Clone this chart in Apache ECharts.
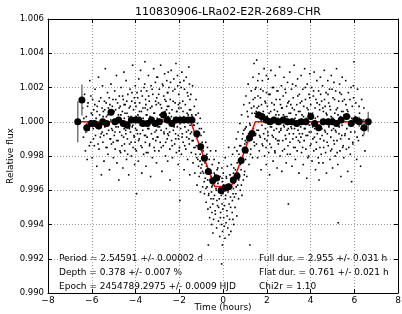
<!DOCTYPE html>
<html>
<head>
<meta charset="utf-8">
<script src="https://cdn.jsdelivr.net/npm/echarts@6/dist/echarts.min.js"></script>
<style>
  html, body { margin: 0; padding: 0; background: #fff; }
  #lightcurve { width: 402px; height: 314px; }
</style>
</head>
<body>
<div id="lightcurve"></div>
<script>
// raw photometry, folded on the period (time in hours, relative flux)
var rawPoints = [
  [-6.42,1.0008],[-6.38,0.9991],[-6.33,1.0016],[-6.29,0.9983],[-6.25,1.0003],[-6.21,0.9978],[-6.17,1.0011],[-6.13,0.9995],[-6.09,1.0024],[-6.05,0.9988],[-6.02,1.0005],
  [-5.98,0.9979],[-5.96,1.0013],[-5.93,0.9996],[-5.91,1.0007],[-5.88,0.9986],[-5.85,1.0019],[-5.83,0.9992],[-5.80,1.0002],[-5.77,0.9974],[-5.75,1.0009],[-5.72,0.9998],[-5.69,1.0026],[-5.67,0.9984],[-5.64,1.0004],[-5.61,0.9991],[-5.59,1.0014],[-5.56,0.9969],[-5.54,1.0001],[-5.52,0.9994],[-5.51,1.0021],
  [-5.49,0.9988],[-5.47,1.0006],[-5.44,0.9977],[-5.42,1.0012],[-5.40,0.9997],[-5.38,1.0031],[-5.35,0.9985],[-5.33,1.0003],[-5.31,0.9993],[-5.28,1.0017],[-5.26,0.9981],[-5.24,1.0008],[-5.21,0.9999],[-5.19,0.9972],[-5.17,1.0010],[-5.14,0.9990],[-5.12,1.0022],[-5.10,0.9987],[-5.07,1.0005],[-5.05,0.9995],[-5.03,1.0013],[-5.01,0.9979],
  [-4.99,1.0001],[-4.97,0.9992],[-4.95,1.0018],[-4.93,0.9984],[-4.91,1.0007],[-4.89,0.9997],[-4.87,1.0027],[-4.85,0.9976],[-4.82,1.0011],[-4.80,0.9989],[-4.78,1.0004],[-4.76,0.9966],[-4.74,1.0015],[-4.72,0.9994],[-4.70,1.0009],[-4.68,0.9982],[-4.66,1.0020],[-4.64,0.9999],[-4.62,0.9986],[-4.60,1.0006],[-4.58,0.9973],[-4.56,1.0013],[-4.54,0.9991],[-4.53,1.0029],[-4.52,0.9996],[-4.51,1.0002],
  [-4.49,0.9983],[-4.47,1.0010],[-4.45,0.9995],[-4.43,1.0024],[-4.41,0.9978],[-4.39,1.0005],[-4.37,0.9990],[-4.35,1.0016],[-4.33,0.9999],[-4.31,0.9969],[-4.29,1.0008],[-4.27,0.9987],[-4.25,1.0019],[-4.23,0.9994],[-4.21,1.0003],[-4.19,0.9980],[-4.17,1.0012],[-4.15,0.9997],[-4.13,1.0033],[-4.11,0.9985],[-4.09,1.0007],[-4.07,0.9992],[-4.05,1.0014],[-4.04,0.9975],[-4.03,1.0001],[-4.02,0.9988],[-4.01,1.0021],[-4.00,0.9996],
  [-3.98,1.0009],[-3.96,0.9983],[-3.95,0.9958],[-3.93,1.0017],[-3.91,0.9993],[-3.89,1.0004],[-3.87,0.9977],[-3.85,1.0025],[-3.83,0.9990],[-3.81,1.0011],[-3.79,0.9998],[-3.77,1.0030],[-3.75,0.9986],[-3.73,1.0006],[-3.71,0.9970],[-3.69,1.0015],[-3.67,0.9995],[-3.65,1.0002],[-3.63,0.9981],[-3.61,1.0020],[-3.59,0.9992],[-3.57,1.0035],[-3.56,1.0008],[-3.55,0.9988],[-3.54,1.0013],[-3.53,0.9999],[-3.52,0.9974],[-3.51,1.0004],
  [-3.49,1.0018],[-3.47,0.9991],[-3.45,1.0007],[-3.43,0.9982],[-3.41,1.0027],[-3.39,0.9996],[-3.37,1.0012],[-3.35,0.9987],[-3.33,1.0003],[-3.31,0.9968],[-3.29,1.0021],[-3.27,0.9993],[-3.25,1.0009],[-3.23,0.9979],[-3.21,1.0016],[-3.19,0.9998],[-3.17,1.0031],[-3.15,0.9985],[-3.13,1.0005],[-3.11,0.9994],[-3.09,1.0023],[-3.07,0.9989],[-3.05,1.0010],[-3.04,0.9976],[-3.03,1.0014],[-3.02,1.0001],[-3.01,0.9991],
  [-2.99,1.0026],[-2.97,0.9997],[-2.95,1.0011],[-2.93,0.9983],[-2.91,1.0019],[-2.89,1.0004],[-2.87,0.9988],[-2.85,1.0033],[-2.83,0.9995],[-2.81,1.0008],[-2.79,0.9971],[-2.77,1.0022],[-2.75,1.0001],[-2.73,0.9986],[-2.71,1.0015],[-2.69,0.9993],[-2.67,1.0028],[-2.65,1.0006],[-2.63,0.9980],[-2.61,1.0012],[-2.59,0.9996],[-2.57,1.0024],[-2.55,0.9990],[-2.54,1.0009],[-2.53,0.9977],[-2.52,1.0017],[-2.51,1.0003],
  [-2.49,0.9992],[-2.47,1.0020],[-2.45,1.0005],[-2.43,0.9984],[-2.42,0.9966],[-2.41,1.0013],[-2.39,0.9998],[-2.37,1.0030],[-2.35,0.9989],[-2.33,1.0007],[-2.31,0.9979],[-2.29,1.0018],[-2.27,0.9995],[-2.25,1.0025],[-2.23,1.0002],[-2.21,0.9987],[-2.19,1.0011],[-2.17,0.9993],[-2.15,1.0034],[-2.13,0.9982],[-2.11,1.0006],[-2.09,0.9997],[-2.07,1.0021],[-2.05,0.9975],[-2.04,1.0010],[-2.03,0.9990],[-2.02,1.0016],[-2.01,1.0000],
  [-1.99,0.9985],[-1.97,0.9954],[-1.96,1.0023],[-1.94,0.9996],[-1.92,1.0008],[-1.90,0.9981],[-1.88,1.0029],[-1.86,0.9993],[-1.84,1.0012],[-1.82,0.9988],[-1.80,1.0003],[-1.78,0.9972],[-1.76,1.0019],[-1.74,0.9997],[-1.72,1.0010],[-1.70,0.9984],[-1.68,1.0026],[-1.66,0.9991],[-1.64,1.0005],[-1.62,0.9978],[-1.60,1.0015],[-1.58,0.9995],[-1.56,1.0032],[-1.54,0.9987],[-1.53,1.0007],[-1.52,0.9969],[-1.51,1.0013],
  [-1.49,0.9993],[-1.47,1.0016],[-1.45,0.9982],[-1.43,1.0004],[-1.41,0.9989],[-1.39,1.0021],[-1.37,0.9976],[-1.35,0.9998],[-1.33,0.9985],[-1.31,1.0009],[-1.29,0.9970],[-1.27,0.9994],[-1.25,0.9981],[-1.23,1.0013],[-1.21,0.9986],[-1.19,0.9963],[-1.17,0.9999],[-1.15,0.9978],[-1.13,1.0005],[-1.11,0.9984],[-1.09,0.9968],[-1.07,0.9993],[-1.05,0.9977],[-1.04,1.0002],[-1.03,0.9959],[-1.02,0.9987],[-1.01,0.9973],
  [-0.99,0.9996],[-0.97,0.9975],[-0.95,0.9988],[-0.93,0.9962],[-0.91,0.9983],[-0.89,0.9970],[-0.87,0.9994],[-0.85,0.9958],[-0.83,0.9979],[-0.81,0.9967],[-0.79,0.9988],[-0.77,0.9953],[-0.75,0.9974],[-0.73,0.9962],[-0.71,0.9985],[-0.69,0.9949],[-0.67,0.9928],[-0.66,0.9971],[-0.65,0.9958],[-0.63,0.9978],[-0.61,0.9944],[-0.59,0.9966],[-0.57,0.9983],[-0.55,0.9955],[-0.53,0.9970],[-0.52,0.9940],[-0.51,0.9962],
  [-0.49,0.9975],[-0.47,0.9952],[-0.46,0.9935],[-0.45,0.9966],[-0.43,0.9943],[-0.41,0.9978],[-0.39,0.9957],[-0.37,0.9969],[-0.35,0.9946],[-0.33,0.9983],[-0.31,0.9960],[-0.29,0.9938],[-0.27,0.9972],[-0.25,0.9951],[-0.23,0.9964],[-0.21,0.9942],[-0.19,0.9976],[-0.17,0.9955],[-0.15,0.9933],[-0.13,0.9968],[-0.11,0.9947],[-0.09,0.9961],[-0.07,0.9940],[-0.06,0.9917],[-0.05,0.9973],[-0.04,0.9952],[-0.03,0.9965],[-0.02,0.9936],[-0.01,0.9958],
  [0.01,0.9970],[0.03,0.9944],[0.05,0.9962],[0.07,0.9951],[0.09,0.9932],[0.10,0.9979],[0.12,0.9957],[0.14,0.9941],[0.16,0.9967],[0.18,0.9948],[0.20,0.9974],[0.22,0.9938],[0.24,0.9960],[0.26,0.9985],[0.28,0.9952],[0.30,0.9943],[0.32,0.9969],[0.34,0.9956],[0.36,0.9936],[0.38,0.9975],[0.40,0.9962],[0.42,0.9947],[0.44,0.9981],[0.46,0.9958],[0.48,0.9970],[0.49,0.9940],
  [0.51,0.9964],[0.53,0.9985],[0.55,0.9950],[0.57,0.9972],[0.59,0.9958],[0.61,0.9990],[0.63,0.9945],[0.65,0.9976],[0.67,0.9963],[0.69,0.9994],[0.71,0.9955],[0.73,0.9981],[0.75,0.9968],[0.77,0.9999],[0.79,0.9960],[0.81,0.9986],[0.83,0.9972],[0.85,1.0004],[0.87,0.9957],[0.89,0.9979],[0.91,0.9993],[0.93,0.9966],[0.95,1.0010],[0.97,0.9984],[0.99,0.9971],
  [1.01,0.9996],[1.03,0.9978],[1.05,1.0015],[1.07,0.9988],[1.09,0.9968],[1.11,1.0006],[1.13,0.9983],[1.15,1.0022],[1.17,0.9993],[1.19,0.9975],[1.21,1.0011],[1.23,0.9928],[1.25,0.9998],[1.27,0.9984],[1.29,1.0018],[1.31,0.9990],[1.33,1.0005],[1.35,0.9979],[1.37,1.0026],[1.39,0.9996],[1.41,1.0009],[1.42,1.0034],[1.44,0.9986],[1.46,1.0014],[1.48,0.9992],[1.49,1.0003],
  [1.51,1.0020],[1.53,0.9987],[1.54,1.0036],[1.56,1.0008],[1.58,0.9979],[1.60,1.0015],[1.62,0.9995],[1.64,1.0028],[1.66,0.9983],[1.68,1.0004],[1.70,0.9991],[1.72,1.0019],[1.74,0.9972],[1.76,1.0010],[1.78,0.9998],[1.80,1.0024],[1.82,0.9986],[1.84,1.0006],[1.86,0.9993],[1.88,1.0031],[1.90,0.9980],[1.92,1.0012],[1.94,0.9996],[1.96,1.0003],[1.98,0.9975],[1.99,1.0017],
  [2.01,0.9989],[2.03,1.0009],[2.05,0.9994],[2.07,1.0025],[2.09,0.9982],[2.11,1.0005],[2.13,0.9969],[2.15,1.0016],[2.17,0.9997],[2.19,1.0030],[2.21,0.9985],[2.23,1.0011],[2.25,0.9992],[2.27,1.0002],[2.29,0.9977],[2.31,1.0020],[2.33,0.9995],[2.35,1.0007],[2.37,0.9983],[2.39,1.0027],[2.41,0.9990],[2.43,1.0013],[2.45,0.9999],[2.47,0.9973],[2.49,1.0006],
  [2.51,1.0018],[2.53,0.9987],[2.55,1.0004],[2.57,0.9994],[2.59,1.0032],[2.61,0.9980],[2.63,1.0010],[2.65,0.9996],[2.67,1.0021],[2.69,0.9971],[2.71,1.0008],[2.73,0.9989],[2.75,1.0015],[2.77,0.9998],[2.79,1.0026],[2.81,0.9984],[2.83,1.0003],[2.85,0.9992],[2.87,1.0017],[2.89,0.9976],[2.91,1.0009],[2.93,0.9995],[2.95,1.0023],[2.97,0.9986],[2.99,0.9952],
  [3.01,1.0012],[3.03,0.9993],[3.05,1.0029],[3.07,0.9981],[3.09,1.0005],[3.11,0.9997],[3.13,1.0019],[3.15,0.9974],[3.17,1.0008],[3.19,0.9990],[3.21,1.0014],[3.23,0.9985],[3.25,1.0033],[3.27,0.9996],[3.29,1.0002],[3.31,0.9978],[3.33,1.0021],[3.35,0.9991],[3.37,1.0010],[3.39,0.9983],[3.41,1.0025],[3.43,0.9995],[3.45,1.0006],[3.47,0.9970],[3.49,1.0016],
  [3.51,0.9988],[3.53,1.0011],[3.55,0.9997],[3.57,1.0027],[3.59,0.9982],[3.61,1.0004],[3.63,0.9993],[3.65,1.0019],[3.67,0.9975],[3.69,1.0009],[3.71,0.9989],[3.73,1.0031],[3.75,0.9996],[3.77,1.0013],[3.79,0.9984],[3.81,1.0002],[3.83,0.9967],[3.85,1.0022],[3.87,0.9992],[3.89,1.0007],[3.91,0.9980],[3.93,1.0016],[3.95,0.9998],[3.97,1.0028],[3.99,0.9986],
  [4.01,1.0010],[4.03,0.9994],[4.05,1.0020],[4.07,0.9977],[4.09,1.0005],[4.11,0.9990],[4.13,1.0015],[4.15,0.9983],[4.17,1.0029],[4.19,0.9996],[4.21,1.0008],[4.23,0.9972],[4.25,1.0013],[4.27,0.9988],[4.29,1.0024],[4.31,0.9993],[4.33,1.0003],[4.35,0.9979],[4.37,1.0018],[4.39,0.9966],[4.41,1.0010],[4.43,0.9985],[4.45,1.0026],[4.47,0.9997],[4.49,0.9981],
  [4.51,1.0012],[4.53,0.9992],[4.55,1.0021],[4.57,0.9976],[4.59,1.0006],[4.61,0.9989],[4.63,1.0030],[4.65,0.9995],[4.67,1.0009],[4.69,0.9982],[4.71,1.0017],[4.73,0.9970],[4.75,1.0004],[4.77,0.9993],[4.79,1.0024],[4.81,0.9986],[4.83,1.0011],[4.85,0.9998],[4.87,1.0019],[4.89,0.9978],[4.91,1.0007],[4.93,0.9991],[4.95,1.0027],[4.97,0.9984],[4.99,1.0002],
  [5.01,0.9973],[5.03,1.0014],[5.05,0.9996],[5.07,1.0023],[5.09,0.9987],[5.11,1.0005],[5.13,0.9980],[5.15,1.0018],[5.17,0.9994],[5.19,1.0031],[5.21,0.9989],[5.23,1.0008],[5.25,0.9975],[5.27,0.9941],[5.29,1.0012],[5.31,0.9997],[5.33,1.0022],[5.35,0.9983],[5.37,1.0003],[5.39,0.9968],[5.41,1.0016],[5.43,0.9992],[5.45,1.0026],[5.47,0.9985],[5.49,1.0006],
  [5.52,0.9979],[5.55,1.0013],[5.58,0.9993],[5.61,1.0024],[5.64,0.9984],[5.67,1.0007],[5.70,0.9971],[5.73,1.0017],[5.76,0.9990],[5.79,1.0003],[5.82,0.9981],[5.85,1.0020],[5.88,0.9965],[5.91,1.0009],[5.94,0.9987],[5.97,1.0014],[5.99,1.0035],
  [6.03,0.9994],[6.07,1.0011],[6.11,0.9978],[6.15,1.0019],[6.19,0.9989],[6.24,1.0005],[6.29,0.9974],[6.34,1.0013],[6.39,0.9992],[6.44,1.0008],[6.49,0.9983]
];

// second observing season, same fold
var rawPointsB = [
  [-6.36,1.0002],[-6.27,0.9994],[-6.19,1.0009],[-6.11,0.9986],[-6.04,1.0015],
  [-5.97,1.0004],[-5.92,0.9990],[-5.86,1.0010],[-5.81,0.9997],[-5.76,1.0006],[-5.71,0.9987],[-5.66,1.0012],[-5.62,1.0000],[-5.57,0.9993],[-5.53,1.0008],
  [-5.48,1.0003],[-5.45,0.9992],[-5.41,1.0007],[-5.37,0.9999],[-5.34,1.0011],[-5.30,0.9985],[-5.27,1.0004],[-5.23,0.9995],[-5.20,1.0014],[-5.16,0.9990],[-5.13,1.0001],[-5.09,0.9996],[-5.06,1.0009],[-5.02,0.9988],
  [-4.98,1.0006],[-4.94,0.9994],[-4.90,1.0013],[-4.86,0.9989],[-4.83,1.0002],[-4.79,0.9997],[-4.75,1.0008],[-4.71,0.9983],[-4.67,1.0004],[-4.63,0.9992],[-4.59,1.0015],[-4.55,0.9999],[-4.52,1.0010],[-4.505,0.9987],
  [-4.48,1.0005],[-4.44,0.9993],[-4.40,1.0012],[-4.36,0.9981],[-4.32,1.0003],[-4.28,0.9996],[-4.24,1.0009],[-4.20,0.9988],[-4.16,1.0017],[-4.12,0.9998],[-4.08,1.0002],[-4.06,0.9991],[-4.025,1.0011],[-4.005,0.9984],
  [-3.97,1.0003],[-3.94,0.9995],[-3.90,1.0014],[-3.86,0.9989],[-3.82,1.0006],[-3.78,0.9993],[-3.74,1.0018],[-3.70,0.9985],[-3.66,1.0008],[-3.62,0.9999],[-3.58,1.0022],[-3.545,0.9992],[-3.525,1.0010],[-3.505,0.9982],
  [-3.48,1.0004],[-3.44,0.9996],[-3.40,1.0015],[-3.36,0.9986],[-3.32,1.0008],[-3.28,0.9999],[-3.24,1.0019],[-3.20,0.9990],[-3.16,1.0005],[-3.12,0.9983],[-3.08,1.0012],[-3.045,0.9995],[-3.025,1.0026],[-3.005,1.0002],
  [-2.98,0.9991],[-2.94,1.0016],[-2.90,0.9997],[-2.86,1.0010],[-2.82,0.9985],[-2.78,1.0004],[-2.74,1.0021],[-2.70,0.9994],[-2.66,1.0013],[-2.62,0.9988],[-2.58,1.0007],[-2.545,1.0017],[-2.525,0.9993],[-2.505,1.0029],
  [-2.48,1.0009],[-2.44,0.9994],[-2.40,1.0023],[-2.36,1.0003],[-2.32,0.9986],[-2.28,1.0012],[-2.24,0.9997],[-2.20,1.0019],[-2.16,0.9990],[-2.12,1.0006],[-2.08,1.0027],[-2.045,0.9992],[-2.025,1.0008],[-2.005,0.9983],
  [-1.98,1.0011],[-1.95,0.9999],[-1.91,1.0020],[-1.87,0.9991],[-1.83,1.0006],[-1.79,1.0024],[-1.75,0.9986],[-1.71,1.0002],[-1.67,0.9994],[-1.63,1.0017],[-1.59,1.0004],[-1.555,0.9990],[-1.535,1.0022],[-1.505,0.9998],
  [-1.48,1.0007],[-1.44,0.9994],[-1.40,1.0003],[-1.36,0.9989],[-1.32,0.9998],[-1.28,0.9985],[-1.24,1.0004],[-1.20,0.9979],[-1.16,0.9991],[-1.12,0.9974],[-1.08,0.9996],[-1.045,0.9981],[-1.025,0.9970],[-1.005,0.9992],
  [-0.98,0.9986],[-0.94,0.9971],[-0.90,0.9980],[-0.86,0.9965],[-0.82,0.9976],[-0.78,0.9961],[-0.74,0.9981],[-0.70,0.9966],[-0.66,0.9957],[-0.62,0.9972],[-0.58,0.9950],[-0.545,0.9968],[-0.525,0.9959],[-0.505,0.9947],
  [-0.48,0.9963],[-0.44,0.9955],[-0.40,0.9970],[-0.36,0.9948],[-0.32,0.9961],[-0.28,0.9954],[-0.24,0.9973],[-0.20,0.9950],[-0.16,0.9962],[-0.12,0.9944],[-0.08,0.9957],[-0.045,0.9967],[-0.025,0.9928],[-0.005,0.9949],
  [0.02,0.9963],[0.06,0.9939],[0.11,0.9955],[0.15,0.9968],[0.19,0.9945],[0.23,0.9959],[0.27,0.9934],[0.31,0.9962],[0.35,0.9950],[0.39,0.9966],[0.43,0.9954],[0.455,0.9943],[0.475,0.9961],[0.495,0.9973],
  [0.52,0.9956],[0.56,0.9969],[0.60,0.9962],[0.64,0.9983],[0.68,0.9970],[0.72,0.9966],[0.76,0.9986],[0.80,0.9975],[0.84,0.9963],[0.88,0.9990],[0.92,0.9978],[0.955,0.9995],[0.975,0.9969],[0.995,0.9987],
  [1.02,0.9989],[1.06,0.9997],[1.10,0.9982],[1.14,1.0003],[1.18,0.9990],[1.22,0.9999],[1.26,0.9981],[1.30,1.0008],[1.34,0.9994],[1.38,1.0013],[1.42,0.9988],[1.455,1.0005],[1.475,1.0019],[1.495,0.9993],
  [1.52,1.0006],[1.55,0.9995],[1.59,1.0024],[1.63,1.0009],[1.67,0.9992],[1.71,1.0014],[1.75,1.0001],[1.79,0.9987],[1.83,1.0018],[1.87,1.0004],[1.91,0.9990],[1.945,1.0011],[1.965,0.9985],[1.985,1.0027],
  [2.02,1.0003],[2.06,0.9992],[2.10,1.0016],[2.14,0.9987],[2.18,1.0006],[2.22,0.9997],[2.26,1.0020],[2.30,0.9991],[2.34,1.0010],[2.38,0.9982],[2.42,1.0004],[2.445,0.9996],[2.465,1.0018],[2.495,0.9989],
  [2.52,1.0002],[2.56,0.9989],[2.60,1.0013],[2.64,0.9995],[2.68,1.0008],[2.72,0.9983],[2.76,1.0004],[2.80,0.9997],[2.84,1.0019],[2.88,0.9990],[2.92,1.0003],[2.945,0.9981],[2.965,1.0011],[2.985,0.9996],
  [3.02,1.0005],[3.06,0.9988],[3.10,1.0010],[3.14,0.9996],[3.18,1.0022],[3.22,0.9993],[3.26,1.0007],[3.30,0.9985],[3.34,1.0004],[3.38,0.9998],[3.42,1.0015],[3.445,0.9989],[3.465,1.0001],[3.495,0.9993],
  [3.52,1.0006],[3.56,0.9991],[3.60,1.0012],[3.64,0.9985],[3.68,1.0003],[3.72,0.9996],[3.76,1.0020],[3.80,0.9992],[3.84,1.0008],[3.88,0.9979],[3.92,1.0005],[3.945,0.9994],[3.965,1.0014],[3.985,1.0000],
  [4.02,0.9987],[4.06,1.0004],[4.10,0.9997],[4.14,1.0018],[4.18,0.9991],[4.22,1.0002],[4.26,0.9984],[4.30,1.0011],[4.34,0.9995],[4.38,0.9976],[4.42,1.0007],[4.445,0.9990],[4.465,1.0016],[4.495,0.9999],
  [4.52,0.9996],[4.56,1.0008],[4.60,0.9985],[4.64,1.0013],[4.68,0.9994],[4.72,1.0005],[4.76,0.9988],[4.80,1.0016],[4.84,0.9997],[4.88,1.0009],[4.92,0.9983],[4.945,1.0003],[4.965,0.9995],[4.985,1.0019],
  [5.02,1.0002],[5.06,0.9989],[5.10,1.0013],[5.14,0.9995],[5.18,1.0007],[5.22,0.9982],[5.26,1.0004],[5.30,0.9993],[5.34,1.0017],[5.38,0.9990],[5.42,1.0006],[5.445,0.9998],[5.465,1.0012],[5.495,0.9986],
  [5.535,1.0004],[5.57,0.9992],[5.62,1.0010],[5.66,0.9996],[5.71,1.0006],[5.75,0.9985],[5.80,1.0013],[5.84,0.9994],[5.89,1.0002],[5.93,0.9988],[5.96,1.0021],
  [6.05,1.0003],[6.13,0.9991],[6.22,1.0009],[6.31,0.9996],[6.42,1.0001]
];

// binned light curve
var binTime = [-6.64,-6.45,-6.23,-6.03,-5.88,-5.68,-5.50,-5.32,-5.12,-4.94,-4.77,-4.56,-4.38,-4.19,-4.00,-3.85,-3.66,-3.46,-3.27,-3.09,-2.91,-2.72,-2.54,-2.34,-2.15,-1.96,-1.78,-1.59,-1.42,
  -1.20,-1.02,-0.85,-0.67,-0.47,-0.29,-0.09,0.09,0.26,0.47,0.64,0.83,1.01,1.21,1.33,1.63,1.77,
  1.97,2.15,2.33,2.54,2.75,2.95,3.15,3.37,3.58,3.79,4.01,4.19,4.37,4.58,4.81,5.00,5.19,5.40,5.65,5.86,6.07,6.23,6.45,6.64];
var binFlux = [1.0000,1.00127,0.99965,0.9999,0.9999,0.99975,1.0000,0.9999,1.00055,1.0000,1.0001,0.9999,0.9998,1.0001,1.0001,1.0001,0.9999,0.9999,1.0001,0.9999,1.0000,1.0004,1.0001,0.9999,1.0001,1.0001,1.0001,1.0001,1.0001,
  0.9993,0.99854,0.99787,0.99710,0.99655,0.99672,0.99598,0.99613,0.99620,0.99660,0.99683,0.99773,0.99835,0.99905,0.99931,1.0004,1.0003,
  1.0001,1.0000,1.0001,1.0000,1.0001,1.0000,1.0000,0.9999,1.0000,1.0000,1.0003,0.9999,0.99965,1.0000,1.0000,1.0000,0.9999,1.0001,1.0003,0.9999,1.0001,1.0000,0.99965,1.0000];
var binErr = [0.0012,0.0009,0.0003,0.0002,0.0002,0.0002,0.0002,0.0002,0.0002,0.0002,0.0002,0.0002,0.0002,0.0002,0.0002,0.0002,0.0002,0.0002,0.0002,0.0002,0.0002,0.0002,0.0002,0.0002,0.0002,0.0002,0.0002,0.0002,0.0002,
  0.0002,0.0002,0.0002,0.0002,0.0002,0.0002,0.0002,0.0002,0.0002,0.0002,0.0002,0.0002,0.0002,0.0002,0.0002,0.0002,0.0002,
  0.0002,0.0002,0.0002,0.0002,0.0002,0.0002,0.0002,0.0002,0.0002,0.0002,0.0002,0.0002,0.0002,0.0002,0.0002,0.0002,0.0002,0.0002,0.0002,0.0002,0.0002,0.0003,0.00044,0.00058];

// trapezoid transit model
var modelTime = [-6.64, -1.4775, -0.3805, 0.3805, 1.4775, 6.64];
var modelFlux = [1.0, 1.0, 0.99622, 0.99622, 1.0, 1.0];

var xTicks = { min: -8, max: 8, step: 2 };
var yTicks = { min: 0.990, max: 1.006, step: 0.002 };

var fitLeft = ['Period = 2.54591 +/- 0.00002 d', 'Depth = 0.378 +/- 0.007 %', 'Epoch = 2454789.2975 +/- 0.0009 HJD'];
var fitRight = ['Full dur. = 2.955 +/- 0.031 h', 'Flat dur. = 0.761 +/- 0.021 h', 'Chi2r = 1.10'];

var FONT = 'DejaVu Sans';

var myChart = echarts.init(document.getElementById('lightcurve'), null, { renderer: 'canvas' });

var binData = binTime.map(function (t, i) { return [t, binFlux[i], binErr[i]]; });
var modelData = modelTime.map(function (t, i) { return [t, modelFlux[i]]; });

function minusSign(v) {
  return String(v).replace('-', '\u2212');
}

var frameLine = { show: true, onZero: false, lineStyle: { color: '#000', width: 1 } };
var tickIn = { show: true, inside: true, length: 4, lineStyle: { color: '#000', width: 1 } };

var textEls = [];
fitLeft.forEach(function (s, i) {
  textEls.push({ type: 'text', left: 59, top: 254 + i * 14, style: { text: s, font: '9px "' + FONT + '"', fill: '#000' } });
});
fitRight.forEach(function (s, i) {
  textEls.push({ type: 'text', left: 259, top: 254 + i * 14, style: { text: s, font: '9px "' + FONT + '"', fill: '#000' } });
});

var rawStyle = { color: '#000', opacity: 1 };

var option = {
  animation: false,
  backgroundColor: '#fff',
  title: {
    text: '110830906-LRa02-E2R-2689-CHR',
    left: 223,
    top: 2,
    textAlign: 'center',
    textStyle: { fontFamily: FONT, fontSize: 11, fontWeight: 'normal', color: '#000' }
  },
  grid: { left: 48, right: 4, top: 19, bottom: 21, containLabel: false, outerBoundsMode: 'none' },
  graphic: textEls,
  xAxis: [
    {
      type: 'value', min: xTicks.min, max: xTicks.max, interval: xTicks.step,
      name: 'Time (hours)', nameLocation: 'middle', nameGap: 10, nameMoveOverlap: false,
      nameTextStyle: { fontFamily: FONT, fontSize: 9, color: '#000' },
      axisLine: frameLine, axisTick: tickIn,
      axisLabel: { margin: 3, fontFamily: FONT, fontSize: 9, color: '#000', formatter: minusSign },
      splitLine: { show: true, lineStyle: { color: '#999', width: 1, type: [1, 2] } }
    },
    {
      type: 'value', position: 'top', min: xTicks.min, max: xTicks.max, interval: xTicks.step,
      axisLine: frameLine, axisTick: tickIn, axisLabel: { show: false }, splitLine: { show: false }
    }
  ],
  yAxis: [
    {
      type: 'value', min: yTicks.min, max: yTicks.max, interval: yTicks.step,
      name: 'Relative flux', nameLocation: 'middle', nameGap: 33, nameRotate: 90, nameMoveOverlap: false,
      nameTextStyle: { fontFamily: FONT, fontSize: 9, color: '#000' },
      axisLine: frameLine, axisTick: tickIn,
      axisLabel: { margin: 4, fontFamily: FONT, fontSize: 8.5, color: '#000', formatter: function (v) { return v.toFixed(3); } },
      splitLine: { show: true, lineStyle: { color: '#999', width: 1, type: [1, 2] } }
    },
    {
      type: 'value', position: 'right', min: yTicks.min, max: yTicks.max, interval: yTicks.step,
      axisLine: frameLine, axisTick: tickIn, axisLabel: { show: false }, splitLine: { show: false }
    }
  ],
  series: [
    {
      name: 'raw',
      type: 'scatter',
      symbol: 'rect',
      symbolSize: 1.6,
      itemStyle: rawStyle,
      data: rawPoints,
      z: 1
    },
    {
      name: 'rawB',
      type: 'scatter',
      symbol: 'rect',
      symbolSize: 1.6,
      itemStyle: rawStyle,
      data: rawPointsB,
      z: 1
    },
    {
      name: 'errors',
      type: 'custom',
      renderItem: function (params, api) {
        var top = api.coord([api.value(0), api.value(1) + api.value(2)]);
        var bot = api.coord([api.value(0), api.value(1) - api.value(2)]);
        return {
          type: 'line',
          shape: { x1: top[0], y1: top[1], x2: bot[0], y2: bot[1] },
          style: { stroke: '#777', lineWidth: 1.5 }
        };
      },
      encode: { x: 0, y: 1 },
      data: binData,
      z: 2
    },
    {
      name: 'model',
      type: 'line',
      symbol: 'none',
      lineStyle: { color: '#ff0000', width: 1.5 },
      data: modelData,
      z: 3
    },
    {
      name: 'binned',
      type: 'scatter',
      symbol: 'circle',
      symbolSize: 7,
      itemStyle: { color: '#000', opacity: 1 },
      data: binData.map(function (d) { return [d[0], d[1]]; }),
      z: 4
    }
  ]
};

myChart.setOption(option);
</script>
</body>
</html>
